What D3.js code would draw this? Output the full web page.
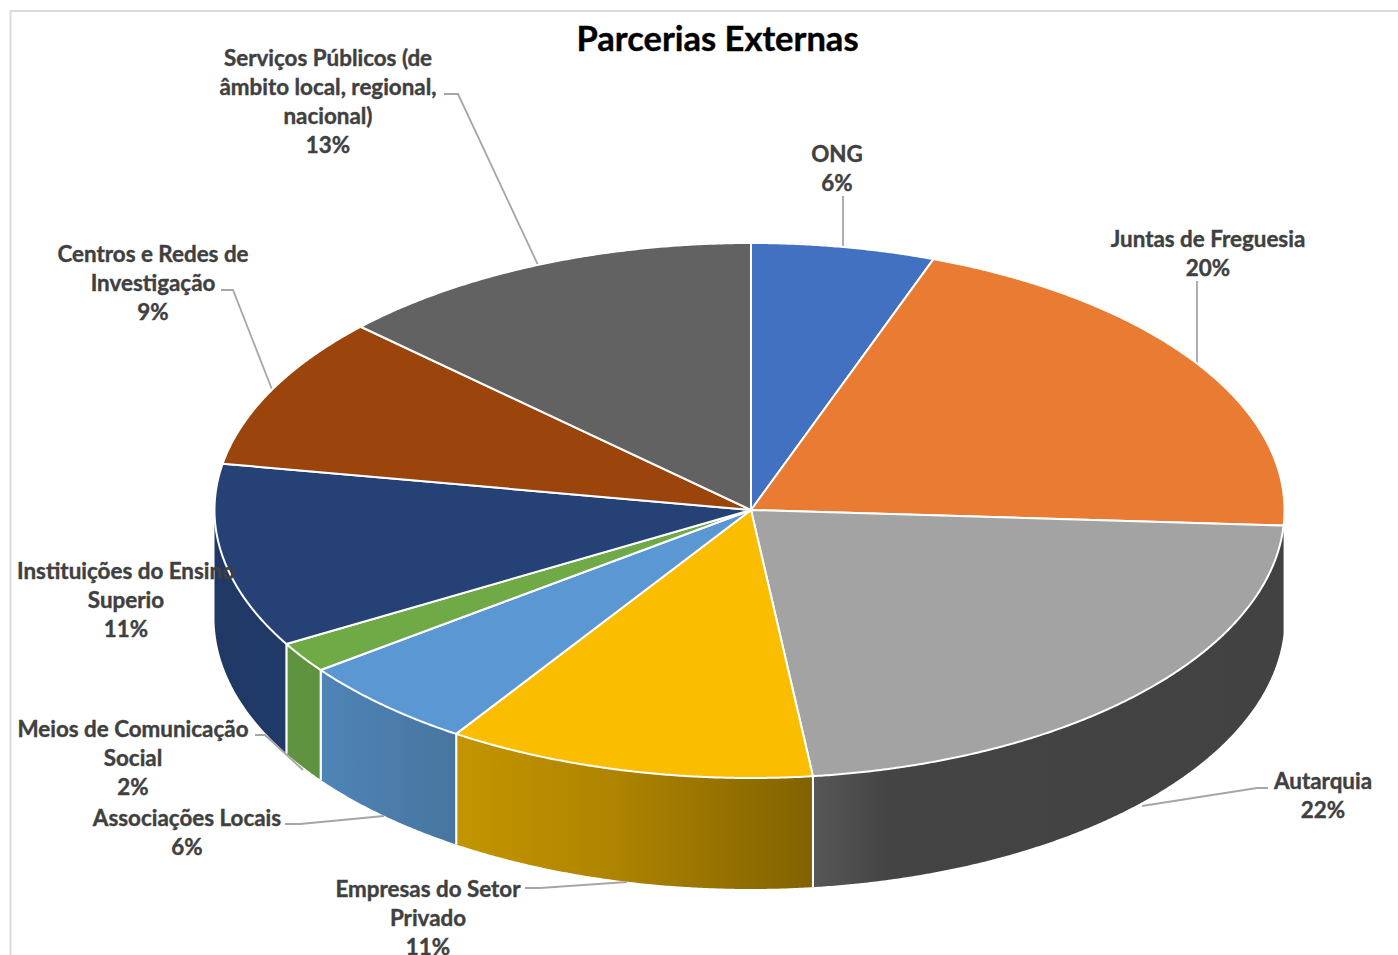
<!DOCTYPE html>
<html lang="pt">
<head>
<meta charset="utf-8">
<title>Parcerias Externas</title>
<script src="https://cdn.jsdelivr.net/npm/d3@7/dist/d3.min.js"></script>
<style>
html,body{margin:0;padding:0;background:#fff;overflow:hidden}
svg{display:block}
text{font-family:Lato,"Open Sans",sans-serif;font-weight:700}
</style>
</head>
<body>
<svg id="chart" width="1398" height="955"></svg>
<script>
const chartTitle = "Parcerias Externas";
const categories = ["ONG","Juntas de Freguesia","Autarquia","Empresas do Setor Privado","Associações Locais","Meios de Comunicação Social","Instituições do Ensino Superio","Centros e Redes de Investigação","Serviços Públicos (de âmbito local, regional, nacional)"];
const counts = [3,11,12,6,3,1,6,5,7];
const topColors = ["#4271c1","#ea7b32","#a3a3a3","#fbbd00","#5b98d3","#70aa47","#254176","#9b450c","#626262"];
const sideStops = [
  null, null,
  [[0,"#575757"],[0.16,"#444444"],[1,"#424242"]],
  [[0,"#c49500"],[0.45,"#ae8300"],[1,"#816200"]],
  [[0,"#4f84b7"],[1,"#47759f"]],
  [[0,"#5f933f"],[1,"#5f933f"]],
  [[0,"#1f3864"],[1,"#203a68"]],
  null, null
];
const labelLines = [["ONG"],["Juntas de Freguesia"],["Autarquia"],["Empresas do Setor","Privado"],["Associações Locais"],["Meios de Comunicação","Social"],["Instituições do Ensino","Superio"],["Centros e Redes de","Investigação"],["Serviços Públicos (de","âmbito local, regional,","nacional)"]];
const labelAnchors = [[837,162],[1208,247],[1323,789],[428,897],[187,826],[133,737],[126,579],[153,262],[328,66]];
const leaderPaths = [
  [[843,196],[843,247]],
  [[1197,281],[1197,363]],
  [[1268,788],[1257,788],[1142,806]],
  [[525,888],[540,888],[627,882]],
  [[285,824],[300,824],[384,816]],
  [[255,735],[265,735],[303,770]],
  [],
  [[221,290],[233,290],[273,392]],
  [[444,94],[458,94],[538,265]]
];

const svg = d3.select("#chart");
const defs = svg.append("defs");
const pct = d3.format(".0%");
const total = d3.sum(counts);
const slices = d3.pie().sort(null).value(d=>d)(counts);

// Projection of the tilted disc
const sx = d3.scaleLinear().domain([-1,0,1]).range([214.5,751,1284.5]);
const syTop = d3.scaleLinear().domain([-1,0,1]).range([243,510,778]);
const syBot = d3.scaleLinear().domain([-1,0,1]).range([347,618,889]);
const topPt = a=>[sx(Math.sin(a)),syTop(-Math.cos(a))];
const botPt = a=>[sx(Math.sin(a)),syBot(-Math.cos(a))];
const line = d3.line();
const arcAngles = (a0,a1)=>{
  const n = Math.max(2,Math.ceil((a1-a0)/0.005));
  return d3.range(n+1).map(i=>a0+(a1-a0)*i/n);
};

// Frame
svg.append("path").attr("d",line([[10.5,955],[10.5,11],[1398,11]]))
  .attr("fill","none").attr("stroke","#dcdcdc").attr("stroke-width",2);

// Side walls (only the part facing the viewer)
slices.forEach((s,i)=>{
  if(!sideStops[i]) return;
  const a0 = Math.max(s.startAngle,Math.PI/2), a1 = Math.min(s.endAngle,3*Math.PI/2);
  if(a1<=a0) return;
  const angs = arcAngles(a0,a1);
  const xs = angs.map(a=>sx(Math.sin(a)));
  const id = "side"+i;
  const g = defs.append("linearGradient").attr("id",id).attr("gradientUnits","userSpaceOnUse")
    .attr("x1",d3.min(xs)).attr("x2",d3.max(xs)).attr("y1",0).attr("y2",0);
  sideStops[i].forEach(st=>g.append("stop").attr("offset",st[0]).attr("stop-color",st[1]));
  const pts = angs.map(topPt).concat(angs.slice().reverse().map(botPt));
  svg.append("path").attr("d",line(pts)+"Z").attr("fill",`url(#${id})`);
  [a0,a1].forEach(a=>{
    if(Math.abs(Math.sin(a))>0.995) return;
    svg.append("path").attr("d",line([topPt(a),botPt(a)]))
      .attr("stroke","#fff").attr("stroke-width",2).attr("fill","none");
  });
});

// Leader lines sit beneath the label text
leaderPaths.forEach(p=>{
  if(p.length) svg.append("path").attr("d",line(p)).attr("fill","none")
    .attr("stroke","#a6a6a6").attr("stroke-width",1.8);
});

// Top face
slices.forEach((s,i)=>{
  const pts = [[sx(0),syTop(0)]].concat(arcAngles(s.startAngle,s.endAngle).map(topPt));
  svg.append("path").attr("d",line(pts)+"Z").attr("fill",topColors[i])
    .attr("stroke","#fff").attr("stroke-width",2).attr("stroke-linejoin","round");
});

// Labels
const LH = 29;
slices.forEach((s,i)=>{
  const lines = labelLines[i].concat([pct(counts[i]/total)]);
  const t = svg.append("text").attr("text-anchor","middle").attr("fill","#404040")
    .attr("stroke","#404040").attr("stroke-width",0.4).attr("font-size",22.4);
  lines.forEach((l,j)=>t.append("tspan").attr("x",labelAnchors[i][0]).attr("y",labelAnchors[i][1]+j*LH).text(l));
});

svg.append("text").attr("x",717.5).attr("y",51).attr("text-anchor","middle")
  .attr("font-size",34.5).attr("fill","#000").attr("stroke","#000").attr("stroke-width",0.4).text(chartTitle);
</script>
</body>
</html>
